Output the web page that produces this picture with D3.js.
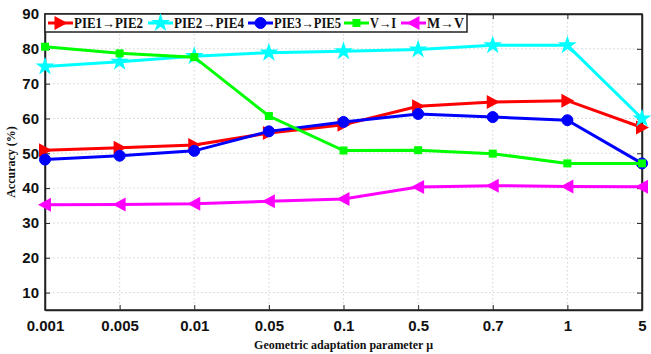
<!DOCTYPE html>
<html><head><meta charset="utf-8">
<script src="https://cdn.jsdelivr.net/npm/d3@7"></script>
<style>body{margin:0;background:#fff}svg{display:block}</style>
</head><body>
<svg id="c" width="651" height="354"></svg>
<script>
const categories = ["0.001","0.005","0.01","0.05","0.1","0.5","0.7","1","5"];
const yTicks = [10,20,30,40,50,60,70,80,90];
const seriesNames = ["PIE1\u2192PIE2","PIE2\u2192PIE4","PIE3\u2192PIE5","V\u2192I","M\u2192V"];
const pie1pie2 = [50.9,51.6,52.4,55.8,58.2,63.5,64.7,65.1,57.4];
const pie2pie4 = [74.9,76.3,77.9,78.9,79.3,79.8,81.0,81.0,60.0];
const pie3pie5 = [48.2,49.3,50.7,56.3,59.0,61.3,60.4,59.5,47.1];
const vi = [80.6,78.7,77.6,60.7,50.8,50.9,49.9,47.1,47.1];
const mv = [35.2,35.3,35.5,36.2,36.9,40.3,40.7,40.5,40.4];
const colors = ["#ff0000","#00ffff","#0000ff","#00ff00","#ff00ff"];
const markers = ["triR","star","circle","square","triL"];
const allSeries = [pie1pie2,pie2pie4,pie3pie5,vi,mv];

const svg = d3.select("#c");
const L=45,R=642,T=14,B=310;
const x = d3.scalePoint().domain(categories).range([L,R]);
const y = d3.scaleLinear().domain([5,90]).range([B,T]);

// grid
const g = svg.append("g");
g.selectAll("line.gx").data(categories.slice(1,-1)).enter().append("line")
 .attr("x1",d=>x(d)).attr("x2",d=>x(d)).attr("y1",T).attr("y2",B)
 .attr("stroke","#c8c8c8").attr("stroke-width",0.8).attr("stroke-dasharray","1.5,2.5");
g.selectAll("line.gy").data(yTicks.slice(0,-1)).enter().append("line")
 .attr("x1",L).attr("x2",R).attr("y1",d=>y(d)).attr("y2",d=>y(d))
 .attr("stroke","#c8c8c8").attr("stroke-width",0.8).attr("stroke-dasharray","1.5,2.5");

// axes
const xa = svg.append("g").attr("transform",`translate(0,${B})`)
 .call(d3.axisBottom(x).tickSizeInner(-5).tickSizeOuter(0).tickPadding(10));
xa.selectAll("text").attr("font-family","'Liberation Sans',Arial,sans-serif").attr("font-weight","bold").attr("font-size","15px").attr("fill","#111");
const ya = svg.append("g").attr("transform",`translate(${L},0)`)
 .call(d3.axisLeft(y).tickValues(yTicks).tickSizeInner(-5).tickSizeOuter(0).tickPadding(6));
ya.selectAll("text").attr("font-family","'Liberation Sans',Arial,sans-serif").attr("font-weight","bold").attr("font-size","15px").attr("fill","#111");
const yr = svg.append("g").attr("transform",`translate(${R},0)`)
 .call(d3.axisRight(y).tickValues(yTicks).tickSizeInner(-5).tickSizeOuter(0));
yr.selectAll("text").remove();
const xt = svg.append("g").attr("transform",`translate(0,${T})`)
 .call(d3.axisTop(x).tickSizeInner(-5).tickSizeOuter(0));
xt.selectAll("text").remove();
[xa,ya,yr,xt].forEach(a=>{a.select(".domain").attr("stroke","#222").attr("stroke-width",1.5);a.selectAll(".tick line").attr("stroke","#222");});
svg.append("rect").attr("x",L).attr("y",T).attr("width",R-L).attr("height",B-T).attr("fill","none").attr("stroke","#222").attr("stroke-width",1.5);

function drawMarker(sel,type,cx,cy,col){
  if(type==="circle") sel.append("circle").attr("cx",cx).attr("cy",cy).attr("r",5.5).attr("fill",col).attr("stroke",col);
  else if(type==="square") sel.append("rect").attr("x",cx-4).attr("y",cy-4).attr("width",8).attr("height",8).attr("fill",col);
  else if(type==="triR") sel.append("path").attr("d",`M${cx+7},${cy} L${cx-6},${cy-7} L${cx-6},${cy+7}Z`).attr("fill",col);
  else if(type==="triL") sel.append("path").attr("d",`M${cx-7},${cy} L${cx+6},${cy-7} L${cx+6},${cy+7}Z`).attr("fill",col);
  else if(type==="star") sel.append("path").attr("d",d3.symbol().type(d3.symbolStar).size(110)()).attr("transform",`translate(${cx},${cy})`).attr("fill",col);
}

// lines
const line = d3.line().x((d,i)=>x(categories[i])).y(d=>y(d));
const plot = svg.append("g");
allSeries.forEach((vals,k)=>{
  const gg = plot.append("g");
  gg.append("path").datum(vals).attr("d",line).attr("fill","none").attr("stroke",colors[k]).attr("stroke-width",3);
  vals.forEach((v,i)=>drawMarker(gg,markers[k],x(categories[i]),y(v),colors[k]));
});

// legend
const lg = svg.append("g");
lg.append("rect").attr("x",L).attr("y",T).attr("width",422).attr("height",18).attr("fill","#fff").attr("stroke","#222").attr("stroke-width",1.5);
const legX=[48,148,248,344,401];
const legW=[69,70,67,26,37];
seriesNames.forEach((n,k)=>{
  const lx=legX[k], ly=T+9;
  lg.append("line").attr("x1",lx).attr("x2",lx+25).attr("y1",ly).attr("y2",ly).attr("stroke",colors[k]).attr("stroke-width",3);
  drawMarker(lg,markers[k],lx+12.5,ly,colors[k]);
  lg.append("text").attr("x",lx+26).attr("y",ly+5).text(n)
   .attr("textLength",legW[k]).attr("lengthAdjust","spacingAndGlyphs")
   .attr("font-family","'Liberation Serif','Times New Roman',serif").attr("font-weight","bold").attr("font-size","14px").attr("fill","#111");
});

// axis labels
svg.append("text").attr("x",(L+R)/2).attr("y",349).attr("text-anchor","middle").text("Geometric adaptation parameter \u03bc")
 .attr("font-family","'Liberation Serif','Times New Roman',serif").attr("font-weight","bold").attr("font-size","12px").attr("fill","#111");
svg.append("text").attr("transform",`translate(15,${(T+B)/2}) rotate(-90)`).attr("text-anchor","middle").text("Accuracy (%)")
 .attr("font-family","'Liberation Serif','Times New Roman',serif").attr("font-weight","bold").attr("font-size","12px").attr("fill","#111");
</script>
</body></html>
